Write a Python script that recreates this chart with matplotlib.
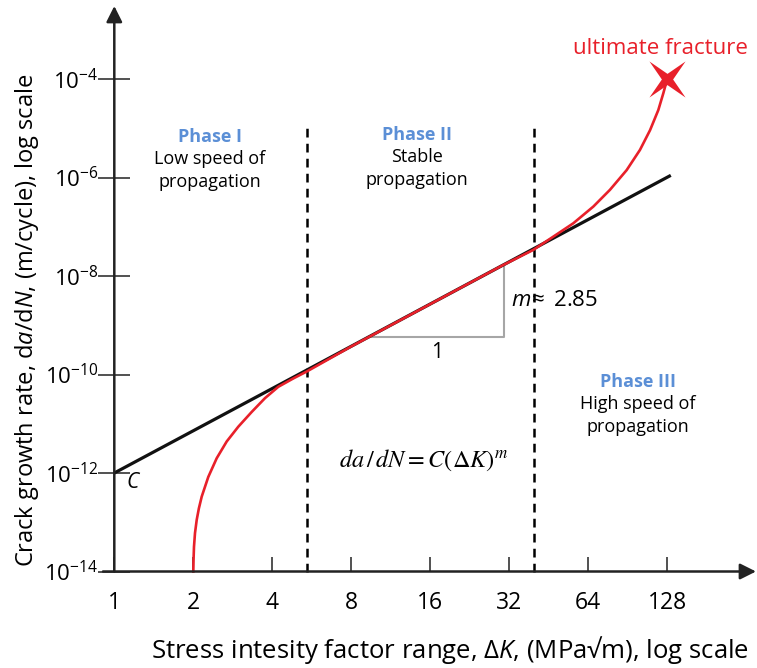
import matplotlib
matplotlib.use("Agg")
import matplotlib.pyplot as plt
import numpy as np
from matplotlib.ticker import NullLocator

plt.rcParams['font.family'] = ['Open Sans', 'DejaVu Sans']
plt.rcParams['mathtext.fontset'] = 'custom'
plt.rcParams['mathtext.rm'] = 'Open Sans'
plt.rcParams['mathtext.it'] = 'Open Sans:italic'

# data
x_ticks = [1, 2, 4, 8, 16, 32, 64, 128]
y_ticks = [1e-14, 1e-12, 1e-10, 1e-8, 1e-6, 1e-4]
y_tick_labels = [r'$10^{-14}$', r'$10^{-12}$', r'$10^{-10}$', r'$10^{-8}$', r'$10^{-6}$', r'$10^{-4}$']

paris_C = 1e-12
paris_m = 2.85
paris_dk = [1, 132]

red_dk = [2.0, 2.004, 2.012, 2.03, 2.061, 2.1, 2.153, 2.281, 2.456, 2.681, 2.968,
          3.339, 3.752, 4.216, 4.81, 5.409, 8.0, 16.0, 30.0, 39.5, 47.1, 56.1,
          66.9, 77.4, 89.6, 100.7, 110.0, 118.3, 123.6, 127.3, 128.0]
red_log = [-14.0, -13.77, -13.5, -13.22, -12.95, -12.72, -12.48, -12.08, -11.7,
           -11.36, -11.06, -10.76, -10.48, -10.25, -10.08, -9.94, -9.43, -8.57,
           -7.79, -7.47, -7.2, -6.93, -6.59, -6.25, -5.85, -5.44, -5.04, -4.63,
           -4.29, -4.04, -4.0]
red_rate = [10.0 ** v for v in red_log]

phase_bounds = [5.41, 39.7]
triangle_dk = [9.27, 30.5]

RED = '#e8202a'
BLUE = '#5b8fd6'

# pixel layout of the reference
W, H = 757, 668
x0, oct_px = 114.3, 79.0
y0, dec_px = 571.5, 49.25

def px(xp):
    return 2 ** ((xp - x0) / oct_px)

def py(yp):
    return 10 ** (-14 + (y0 - yp) / dec_px)

fig = plt.figure(figsize=(W / 100, H / 100), dpi=100)
ax = fig.add_axes([0, 0, 1, 1])
ax.set_xscale('log', base=2)
ax.set_yscale('log')
ax.set_xlim(px(0), px(W))
ax.set_ylim(py(H), py(0))

for s in ['top', 'right']:
    ax.spines[s].set_visible(False)
ax.spines['left'].set_position(('data', 1))
ax.spines['bottom'].set_position(('data', 1e-14))
ax.spines['left'].set_color('none')
ax.spines['bottom'].set_color('none')

ax.set_xticks(x_ticks)
ax.set_xticklabels([str(v) for v in x_ticks], fontsize=16.5)
ax.set_yticks(y_ticks)
ax.set_yticklabels(y_tick_labels, fontsize=16)
ax.xaxis.set_minor_locator(NullLocator())
ax.yaxis.set_minor_locator(NullLocator())
ax.tick_params(axis='x', direction='in', length=11, width=1.2, color='#333333', pad=14)
ax.tick_params(axis='y', direction='inout', length=23, width=1.2, color='#333333', pad=0)

# axis arrows
arrow = dict(arrowstyle='-|>', lw=1.8, color='#222222', mutation_scale=24,
             shrinkA=0, shrinkB=0)
ax.annotate('', xy=(px(756), 1e-14), xytext=(px(103), 1e-14), arrowprops=arrow,
            annotation_clip=False)
ax.annotate('', xy=(1, py(6)), xytext=(1, 1e-14), arrowprops=arrow,
            annotation_clip=False)

# phase boundaries
for b in phase_bounds:
    ax.plot([b, b], [1e-14, py(128)], color='black', lw=1.8, ls=(0, (3.5, 2.5)))

# slope triangle
tri_y = [paris_C * d ** paris_m for d in triangle_dk]
ax.plot([triangle_dk[0], triangle_dk[1], triangle_dk[1]],
        [tri_y[0], tri_y[0], tri_y[1]], color='#a6a6a6', lw=1.5)

# Paris law line and measured curve
paris_rate = [paris_C * d ** paris_m for d in paris_dk]
ax.plot(paris_dk, paris_rate, color='#111111', lw=2.3, solid_capstyle='butt')
ax.plot(red_dk, red_rate, color=RED, lw=1.9, solid_joinstyle='round')

# thin four-pointed star for the fracture point
ang = np.deg2rad(45 + 45 * np.arange(8))
rad = np.where(np.arange(8) % 2 == 0, 1.0, 0.22)
star = list(zip(rad * np.cos(ang), rad * np.sin(ang)))
ax.plot([128], [1e-4], marker=star, color=RED, ms=26, mew=0)

# text
ax.text(px(660), py(48), 'ultimate fracture', color=RED, fontsize=16,
        ha='center', va='center')
for xc, yc, head, lines in [(210, 137, 'Phase I', 'Low speed of\npropagation'),
                            (417, 135, 'Phase II', 'Stable\npropagation'),
                            (638, 382, 'Phase III', 'High speed of\npropagation')]:
    ax.text(px(xc), py(yc), head, color=BLUE, fontsize=13, fontweight='bold',
            ha='center', va='center')
    ax.text(px(xc), py(yc + 13), lines, color='black', fontsize=13,
            ha='center', va='top', linespacing=1.35)

ax.text(px(511), py(300), r'$m\!\approx$ 2.85', fontsize=16, ha='left', va='center')
ax.text(px(437), py(352), '1', fontsize=15, ha='center', va='center')
ax.text(px(126), py(483), r'$C$', fontsize=15, ha='left', va='center')
ax.text(px(424), py(460), r'$da\,/\,dN = C\left(\Delta K\right)^{m}$', fontsize=17.5,
        ha='center', va='center', math_fontfamily='stix')

fig.text(450 / W, 1 - 650 / H, 'Stress intesity factor range, \u0394$\\mathit{K}$, (MPa\u221am), log scale',
         fontsize=18.5, ha='center', va='center')
fig.text(27 / W, 1 - 320 / H, r'Crack growth rate, d$\mathit{a}$/d$\mathit{N}$, (m/cycle), log scale',
         fontsize=17, ha='center', va='center', rotation=90)

fig.savefig('out.png', dpi=100)
